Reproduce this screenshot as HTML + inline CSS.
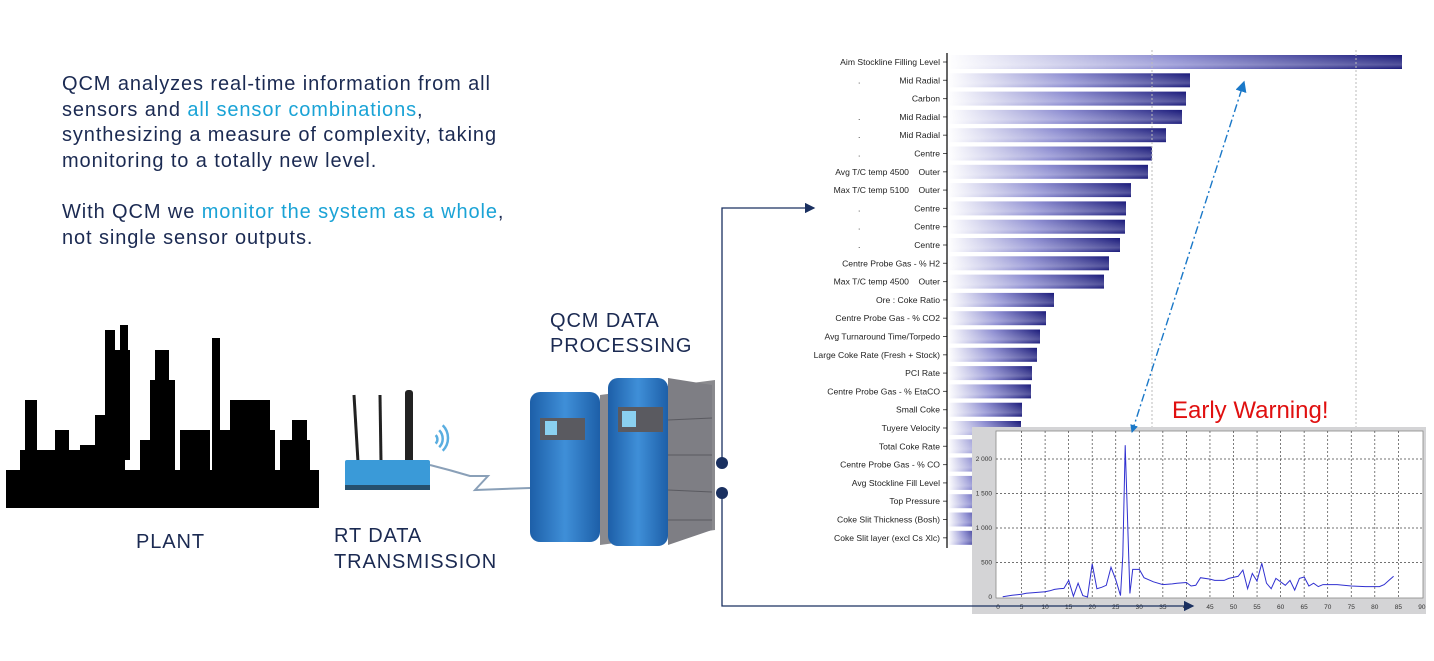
<!DOCTYPE html>
<html><head><meta charset="utf-8"><style>
html,body{margin:0;padding:0;background:#fff;}
svg{display:block;font-family:"Liberation Sans",sans-serif;}
</style></head><body>
<svg id="s" width="1434" height="661" viewBox="0 0 1434 661" xmlns="http://www.w3.org/2000/svg">
<defs>
<linearGradient id="bg" x1="0" x2="1" y1="0" y2="0"><stop offset="0" stop-color="#ffffff"/><stop offset="0.5" stop-color="#8a8ad0"/><stop offset="1" stop-color="#1a1a7a"/></linearGradient>
<linearGradient id="bv" x1="0" x2="0" y1="0" y2="1"><stop offset="0" stop-color="#fff" stop-opacity="0"/><stop offset="0.7" stop-color="#fff" stop-opacity="0.25"/><stop offset="1" stop-color="#fff" stop-opacity="0"/></linearGradient>
<linearGradient id="srv" x1="0" x2="1"><stop offset="0" stop-color="#1d5fa8"/><stop offset="0.5" stop-color="#3f8fd8"/><stop offset="1" stop-color="#1d5fa8"/></linearGradient>
<marker id="ah" markerWidth="8" markerHeight="8" refX="7" refY="4" orient="auto"><path d="M0,0 L8,4 L0,8 z" fill="#1a3060"/></marker>
<marker id="ab" markerWidth="8" markerHeight="8" refX="7" refY="4" orient="auto"><path d="M0,0 L8,4 L0,8 z" fill="#1a78c8"/></marker>
</defs>
<g font-size="20" fill="#1b2a52" letter-spacing="0.9">
<text x="62" y="90">QCM analyzes real-time information from all</text>
<text x="62" y="116">sensors and <tspan fill="#1aa3d6">all sensor combinations</tspan>,</text>
<text x="62" y="141">synthesizing a measure of complexity, taking</text>
<text x="62" y="167">monitoring to a totally new level.</text>
<text x="62" y="218">With QCM we <tspan fill="#1aa3d6">monitor the system as a whole</tspan>,</text>
<text x="62" y="244">not single sensor outputs.</text>
<text x="136" y="548">PLANT</text>
<text x="334" y="542">RT DATA</text>
<text x="334" y="568">TRANSMISSION</text>
<text x="550" y="327">QCM DATA</text>
<text x="550" y="352">PROCESSING</text>
</g>
<!-- plant silhouette -->
<g fill="#000">
<rect x="6" y="470" width="313" height="38"/>
<rect x="20" y="450" width="40" height="25"/><rect x="25" y="400" width="12" height="60"/>
<rect x="55" y="430" width="14" height="45"/><rect x="80" y="445" width="20" height="30"/>
<rect x="95" y="415" width="30" height="60"/><rect x="105" y="330" width="10" height="120"/>
<rect x="115" y="350" width="15" height="110"/><rect x="120" y="325" width="8" height="40"/>
<rect x="150" y="380" width="25" height="95"/><rect x="155" y="350" width="14" height="40"/>
<rect x="180" y="430" width="30" height="45"/><rect x="212" y="338" width="8" height="140"/>
<rect x="215" y="430" width="60" height="45"/><rect x="230" y="400" width="40" height="40"/>
<rect x="250" y="410" width="20" height="70"/><rect x="280" y="440" width="30" height="35"/>
<rect x="292" y="420" width="15" height="30"/><rect x="140" y="440" width="20" height="35"/>
<rect x="60" y="450" width="30" height="25"/>
</g>
<!-- router -->
<g>
<line x1="354" y1="395" x2="358" y2="462" stroke="#222" stroke-width="3"/>
<line x1="380" y1="395" x2="381" y2="462" stroke="#222" stroke-width="3"/>
<rect x="405" y="390" width="8" height="78" rx="3" fill="#222"/>
<rect x="345" y="460" width="85" height="28" rx="2" fill="#3a9ad8"/>
<rect x="345" y="485" width="85" height="5" fill="#26506e"/>
<path d="M430 465 Q450 470 470 476 L488 476 L475 490 L530 488" fill="none" stroke="#8aa0b8" stroke-width="2"/>
<path d="M432 432 a6 6 0 0 1 6 6 M431 426 a12 12 0 0 1 12 12 M430 420 a18 18 0 0 1 18 18" transform="rotate(45 430 438)" fill="none" stroke="#5aaee0" stroke-width="2.5"/>
</g>
<!-- servers -->
<g>
<polygon points="600,395 715,380 715,530 600,545" fill="#8a8a8e"/>
<rect x="530" y="392" width="70" height="150" rx="10" fill="url(#srv)"/>
<rect x="608" y="378" width="60" height="168" rx="10" fill="url(#srv)"/>
<polygon points="668,378 712,385 712,530 668,545" fill="#7e7e84"/>
<g stroke="#5a5a60" stroke-width="1"><line x1="668" y1="420" x2="712" y2="418"/><line x1="668" y1="455" x2="712" y2="455"/><line x1="668" y1="490" x2="712" y2="492"/><line x1="668" y1="520" x2="712" y2="520"/></g>
<rect x="540" y="418" width="45" height="22" fill="#5a5a60"/><rect x="618" y="407" width="45" height="25" fill="#5a5a60"/>
<rect x="545" y="421" width="12" height="14" fill="#8ad0f0"/><rect x="622" y="411" width="14" height="16" fill="#8ad0f0"/>
</g>
<!-- bar chart -->
<g id="bars"></g>
<line x1="1152" y1="50" x2="1152" y2="550" stroke="#bbb" stroke-dasharray="2,2"/>
<line x1="1356" y1="50" x2="1356" y2="550" stroke="#bbb" stroke-dasharray="2,2"/>
<line x1="947" y1="53" x2="947" y2="548" stroke="#000" stroke-width="1.2"/>
<!-- early warning -->
<text x="1172" y="418" font-size="24" fill="#e01010">Early Warning!</text>
<rect x="972" y="427" width="454" height="187" fill="#d4d4d6"/>
<rect x="996" y="431" width="427" height="167" fill="#fff" stroke="#888" stroke-width="0.8"/>
<g id="lc"></g>
<line x1="1132" y1="432" x2="1244" y2="82" stroke="#1a78c8" stroke-width="1.4" stroke-dasharray="8,3,2,3" marker-end="url(#ab)"/>
<line x1="1244" y1="82" x2="1132" y2="432" stroke="none" marker-end="url(#ab)"/>
<!-- connectors -->
<g stroke="#1a3060" stroke-width="1.3" fill="none">
<path d="M722 463 L722 208 L814 208" marker-end="url(#ah)"/>
<path d="M722 493 L722 606 L1193 606" marker-end="url(#ah)"/>
</g>
<circle cx="722" cy="463" r="6" fill="#1a3060"/><circle cx="722" cy="493" r="6" fill="#1a3060"/>
</svg>
<script>
const NS="http://www.w3.org/2000/svg";
function el(t,a,p,txt){const e=document.createElementNS(NS,t);for(const k in a)e.setAttribute(k,a[k]);if(txt!=null)e.textContent=txt;p.appendChild(e);return e;}
const labels=[["Aim Stockline Filling Level",1402],["Mid Radial",1190,1],["Carbon",1186],["Mid Radial",1182,1],["Mid Radial",1166,1],["Centre",1152,1],["Avg T/C temp 4500\u00a0\u00a0\u00a0 Outer",1148],["Max T/C temp 5100\u00a0\u00a0\u00a0 Outer",1131],["Centre",1126,1],["Centre",1125,1],["Centre",1120,1],["Centre Probe Gas - % H2",1109],["Max T/C temp 4500\u00a0\u00a0\u00a0 Outer",1104],["Ore : Coke Ratio",1054],["Centre Probe Gas - % CO2",1046],["Avg Turnaround Time/Torpedo",1040],["Large Coke Rate (Fresh + Stock)",1037],["PCI Rate",1032],["Centre Probe Gas - % EtaCO",1031],["Small Coke",1022],["Tuyere Velocity",1021],["Total Coke Rate",1010],["Centre Probe Gas - % CO",1000],["Avg Stockline Fill Level",995],["Top Pressure",990],["Coke Slit Thickness (Bosh)",985],["Coke Slit layer (excl Cs Xlc)",980]];
const bars=document.getElementById("bars");
labels.forEach((l,i)=>{const y=62+i*18.3;
el("rect",{x:948,y:y-7,width:l[1]-948,height:14,fill:"url(#bg)"},bars);
el("rect",{x:948,y:y-7,width:l[1]-948,height:14,fill:"url(#bv)"},bars);
el("text",{x:940,y:y+3,"font-size":"8.6","text-anchor":"end",fill:"#222"},bars,l[0]);
if(l[2])el("text",{x:858,y:y+3,"font-size":"8.6",fill:"#222"},bars,".");
el("line",{x1:943,x2:947,y1:y,y2:y,stroke:"#555"},bars);});
const lc=document.getElementById("lc");
const X=v=>998+v*4.71,Y=v=>597-v*0.069;
for(let v=0;v<=90;v+=5){if(v>0&&v<90)el("line",{x1:X(v),x2:X(v),y1:431,y2:598,stroke:"#444","stroke-width":0.7,"stroke-dasharray":"2,2"},lc);
el("text",{x:X(v),y:609,"font-size":"6.5","text-anchor":"middle",fill:"#333"},lc,v);}
[0,500,1000,1500,2000].forEach(v=>{if(v>0)el("line",{x1:996,x2:1423,y1:Y(v),y2:Y(v),stroke:"#444","stroke-width":0.7,"stroke-dasharray":"2,2"},lc);
el("text",{x:992,y:Y(v)+2,"font-size":"6.5","text-anchor":"end",fill:"#333"},lc,v>=1000?String(v).replace(/(\d)(\d{3})$/,"$1 $2"):v);});
const d=[[1,5],[3,25],[5,40],[6,55],[8,65],[10,75],[11,90],[12,110],[13,120],[14,125],[15,240],[16,10],[17,200],[18,20],[19,0],[20,480],[21,120],[22,140],[23,170],[24,430],[25,250],[26,20],[26.5,600],[27,2200],[28,50],[28.6,400],[30,400],[31,280],[33,220],[35,180],[37,190],[38,200],[40,210],[41,160],[42,170],[43,280],[45,260],[46,240],[48,240],[49,270],[51,300],[52,390],[53,120],[54,340],[55,230],[56,490],[57,200],[58,120],[59,270],[61,170],[62,240],[63,100],[64,270],[65,290],[66,160],[67,200],[68,150],[69,180],[72,180],[75,160],[78,150],[81,150],[82,180],[83,240],[84,300]];
el("polyline",{points:d.map(p=>X(p[0]).toFixed(1)+","+Y(p[1]).toFixed(1)).join(" "),fill:"none",stroke:"#3030d0","stroke-width":1},lc);
</script>
</body></html>
